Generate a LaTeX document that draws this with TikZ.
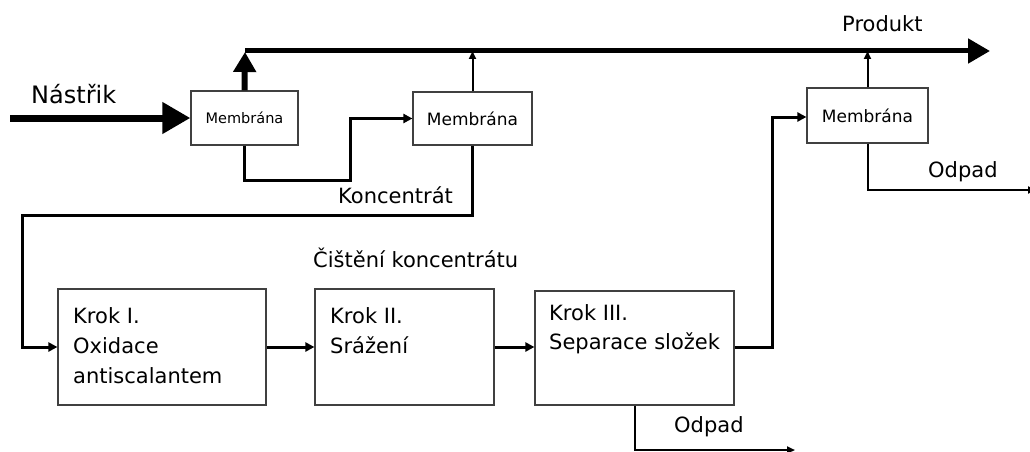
\documentclass[tikz,border=0pt]{standalone}
\usepackage{fontspec}
\setmainfont{DejaVu Sans}
\usetikzlibrary{arrows.meta}
\begin{document}
\begin{tikzpicture}[x=1pt,y=-1pt,
  box/.style={draw=black!75, line width=1.2pt, minimum width=#1, inner sep=0pt},
  lbl/.style={font=\fontsize{21}{25}\selectfont, anchor=base west, inner sep=0pt},
  flow/.style={line width=3pt, -{Triangle[length=9pt,width=9pt]}},
  thin/.style={line width=2pt, -{Triangle[length=8pt,width=7pt]}}]
\useasboundingbox (0,0) rectangle (1030,452);
% membranes
\node[box=107pt, minimum height=54pt, font=\fontsize{14.5}{16}\selectfont] (m1) at (244.5,118) {Membrána};
\node[box=119pt, minimum height=53pt, font=\fontsize{17}{20}\selectfont] (m2) at (472.5,118.5) {Membrána};
\node[box=121pt, minimum height=55pt, font=\fontsize{17}{20}\selectfont] (m3) at (867.5,115.5) {Membrána};
% steps
\node[box=208pt, minimum height=116pt] (k1) at (162,347) {};
\node[box=179pt, minimum height=116pt] (k2) at (404.5,347) {};
\node[box=199pt, minimum height=114pt] (k3) at (634.5,348) {};
\node[lbl] (t1a) at (73,323) {Krok I.};
\node[lbl] (t1b) at (73,353) {Oxidace};
\node[lbl] (t1c) at (73,383) {antiscalantem};
\node[lbl] (t2a) at (330,323) {Krok II.};
\node[lbl] (t2b) at (330,353) {Srážení};
\node[lbl] (t3a) at (549,320) {Krok III.};
\node[lbl] (t3b) at (549,349) {Separace složek};
% labels
\node[lbl, font=\fontsize{24}{28}\selectfont] (nas) at (31,103) {Nástřik};
\node[lbl] (prod) at (842,32) {Produkt};
\node[lbl] (konc) at (338,203) {Koncentrát};
\node[lbl] (cist) at (313,267) {Čištění koncentrátu};
\node[lbl] (odp1) at (928,177) {Odpad};
\node[lbl] (odp2) at (674,432) {Odpad};
% coordinates
\coordinate (feed) at (10,118);
\coordinate (pstart) at (245,51);
\coordinate (pend) at (990,51);
\coordinate (w1) at (1036,190);
\coordinate (w2) at (795,450);
% feed
\draw[line width=7pt, -{Triangle[length=28pt,width=30pt]}] (feed) -- (m1.west);
% product line
\draw[line width=5pt, -{Triangle[length=22pt,width=24pt]}] (pstart) -- (pend);
\draw[line width=6pt, -{Triangle[length=20pt,width=22pt]}] (m1.north) -- ([yshift=-1pt]pstart);
\draw[thin] (m2.north) -- (m2.north |- pstart);
\draw[thin] (m3.north) -- (m3.north |- pstart);
% M1 -> M2
\draw[flow] (m1.south) |- (350,180) |- (m2.west);
% M2 concentrate -> Krok I
\draw[flow] (m2.south) |- (22,215) |- (k1.west);
% steps
\draw[flow] (k1.east) -- (k2.west |- k1.east);
\draw[flow] (k2.east) -- (k3.west |- k2.east);
\draw[flow] (k3.east |- k2.east) -| (772,117) -- (m3.west |- 0,117);
% wastes
\draw[thin] (m3.south) |- (w1);
\draw[thin] (k3.south) |- (w2);
\end{tikzpicture}
\end{document}
